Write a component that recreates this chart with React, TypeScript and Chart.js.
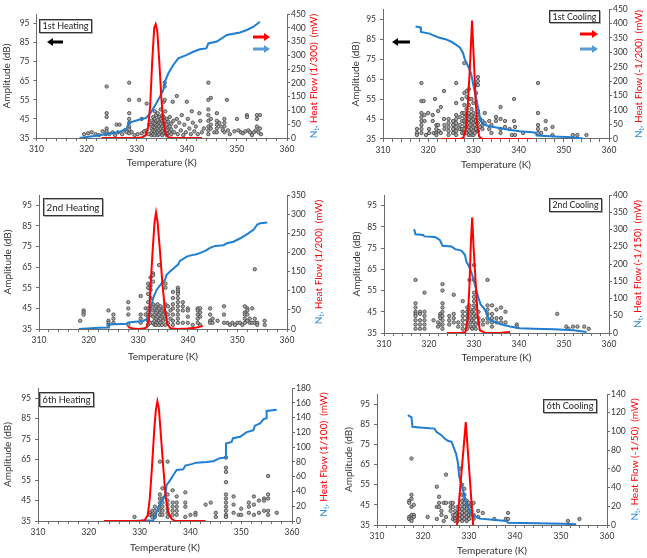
import React, { useEffect, useRef } from 'react';
import { Chart, registerables } from 'chart.js';
Chart.register(...registerables);

type P = [number, number];

const FONT = 'Lato, "Open Sans", sans-serif';
const TXT = '#333333';
const AX = '#6b6b6b';
const BLUE = 'rgb(31,126,207)';
const BLUE_T = 'rgb(46,139,214)';
const BLUE_ARROW = 'rgb(91,155,213)';
const RED = '#ff0000';

// shared axis ticks
const xTickMarks = [310, 312, 314, 316, 318, 320, 322, 324, 326, 328, 330, 332, 334, 336, 338, 340, 342, 344, 346, 348, 350, 352, 354, 356, 358, 360];
const xTickLabels = [310, 320, 330, 340, 350, 360];
const ampTicks = [35, 45, 55, 65, 75, 85, 95];

// ---------- 1st Heating ----------
const h1Ticks = [0, 50, 100, 150, 200, 250, 300, 350, 400, 450];
const h1Amp: P[] = [
  [319.5,37],[320.3,37.5],[321,38],[321.8,37],[322.5,36.5],[323.2,38.5],[323.8,37],[324,62],[324,48],[324,46],[324,40],[324,38.5],[324.5,37],[325.2,38],[325.7,36.5],[326,42],[326.6,42],[326.3,38],[327.1,37],[327.6,39],[328,38],[328.5,64],[328.5,55],[328.5,48],[328.5,45],[328.5,43],[328.5,41],[328.5,39.5],[328.5,37.5],[329,38],[329.6,36.5],[330.2,37],[330.5,55],[331,37.5],[331,45],[331.5,38.5],[332,53],[332,39],[332.5,42],[332.4,37],
  [333,36.5],[333,38],[333,40],[333,42],[333,44],[333.3,37],[333.3,39],[333.3,41],[333.3,43],[333.3,46],[333.6,36.5],[333.6,38.5],[333.6,40.5],[333.6,42.5],[333.6,45],[333.6,49],[333.9,37.5],[333.9,39.5],[333.9,41.5],[333.9,44],[333.9,47],[334.2,36.5],[334.2,38],[334.2,40],[334.2,42],[334.2,44.5],[334.2,48],[334.5,37],[334.5,39],[334.5,41],[334.5,43],[334.5,46],[334.8,38],[334.8,40],[334.8,42.5],[334.8,45],[334.8,50],[335.1,36.5],[335.1,38.5],[335.1,41],[335.1,44],[335.1,47],[335.4,37.5],[335.4,40],[335.4,43],[335.4,46],[335.4,54],[335.6,64],[335.6,62],[335.6,55],[335.7,38],[335.7,41],[335.7,44],[335.7,49],[336,36.5],[336,39],[336,42],[336,45],[336.3,37.5],[336.3,40.5],[336.3,43.5],[336.6,38],[336.6,41],[336.6,46],[336.9,37],[336.9,39.5],[336.9,42.5],
  [337.2,54],[337.3,44],[337.5,38],[337.8,41],[338,57],[338,45],[338.2,37],[338.5,43],[338.8,39],[339,47],[339.3,36.5],[339.5,42],[339.8,38],[340,54],[340.2,45],[340.5,40],[340.8,37],[341,49],[341.2,43],[341.5,38.5],[341.8,41],[342.2,37],[342.5,48],[342.7,44],[343,38],[343.4,40],[344.3,64],[344.3,55],[344.3,50],[344.3,47],[344.3,44],[344.3,41],[344.3,39],[344.3,37],[344.8,56],[344.8,45],[344.8,42],[344.8,40],[345.5,38],[346,48],[346,44],[346,42],[346,40],[346,38],[346.5,43],[346.8,41],[347.2,39],[347.5,45],[347.5,43],[347.5,41],[347.5,38],[348,55],[348.2,39],[348.6,37],[349.5,38.5],[350,45],[350.3,39],[350.8,38],[351.2,37.5],[351.7,38.5],[352,47],[352,46],[352.3,39],[352.6,38],[353,36.5],[353.4,38],[353.8,39],[354,47],[354,45],[354,41],[354.3,38],[354.6,47],[354.6,40],[354.8,37]
];
const h1Nt: P[] = [[318.6,0],[322.6,10],[324.6,16],[326.6,22],[328,34],[328.4,55],[330.6,67],[331.9,73],[332.9,95],[333.9,125],[334.6,149],[335.3,174],[335.6,204],[336.3,234],[337.3,265],[338.3,289],[339.9,301],[341.3,313],[342.6,322],[343.9,325],[344.3,343],[346,350],[348,374],[350.6,383],[352,392],[353.3,404],[354.6,422]];
const h1Hf: P[] = [[323,0],[330,0],[331,2],[331.8,10],[332.3,40],[332.7,120],[333.1,280],[333.5,400],[333.8,413],[334.1,390],[334.5,280],[334.9,150],[335.3,60],[335.8,15],[336.3,3],[337,0],[343,0]];

// ---------- 1st Cooling ----------
const c1Ticks = [0, 50, 100, 150, 200, 250, 300, 350, 400, 450];
const c1Amp: P[] = [
  [317.5,40],[317.5,38],[317.5,37],[318.5,63],[318.5,54],[318.5,48],[318.5,46],[318.5,44],[318.5,42],[318.5,40],[318.5,38],[319,54],[319.2,47],[319.2,44],[319.5,37],[320,48],[320.2,40],[320.2,38],[321,47],[321,44],[321.2,38],[321.5,55],[321.8,42],[321.8,40],[321.8,38],[321.8,37],[322.2,49],[322.2,42],[322.4,39],[322.8,51],[322.8,38],[323.5,59],[323.5,45],[323.6,42],[323.6,40],[324.5,45],[324.5,43],[324.5,41],[324.5,39],[324.5,37],[325.5,44],[325.5,42],[325.5,40],[325.5,38],[326.2,63],[326.2,53],[326.2,47],[326.2,45],[326.2,43],[326.2,41],[326.2,39],[326.2,37],[327,46],[327,42],[327,40],[327.5,55],[327.5,48],[327.5,44],[327.5,40],[327.5,38],
  [328,73],[328,58],[328,52],[328,48],[328,46],[328,44],[328,42],[328,40],[328,38],[328.5,59],[328.5,56],[328.5,50],[328.5,47],[328.5,44],[328.5,41],[328.5,38],[329,60],[329,55],[329,52],[329,48],[329,45],[329,43],[329,41],[329,39],[329,37],[329.3,46],[329.3,42],[329.3,38],[329.6,55],[329.6,50],[329.6,47],[329.6,44],[329.6,40],[329.6,37],[330,53],[330,48],[330,45],[330,43],[330,41],[330,39],[330,37],[330.3,46],[330.3,42],[330.3,38],[330.6,62],[330.6,58],[330.6,44],[330.6,40],[331,66],[331,64],[331,62],[331,49],[331,47],[331,43],[331,39],[331.5,45],[331.5,41],
  [332,44],[332,42],[332,40],[332.5,48],[332.5,43],[333.5,44],[333.5,40],[334,42],[334,38],[335,46],[335,44],[336,51],[336,45],[336,40],[336,38],[337,44],[337,41],[338,40],[338.5,37],[339,55],[339,44],[339.2,41],[339.2,37],[341,38],[344.3,63],[344.3,48],[344.3,42],[344.3,40],[344.3,38],[345,38],[346,44],[346,40],[347.5,41],[347.5,37],[352,37],[353,37],[355,37]
];
const c1Nt: P[] = [[317.2,390],[318.3,387],[318.4,371],[320.3,365],[321,360],[322.5,351],[324,345],[325.1,337],[326.2,326],[327,317],[327.7,298],[328.1,276],[328.8,253],[329.5,226],[330,186],[330.6,142],[331.2,97],[331.5,69],[332,52],[333.5,44],[335.7,38],[337.9,32],[340.2,27],[343.1,23],[343.8,21],[344,12],[346,10],[349,8],[352,6],[354.2,2]];
const c1Hf: P[] = [[323,0],[327.2,0],[327.8,5],[328.3,30],[328.8,130],[329.2,240],[329.7,410],[330.2,240],[330.5,130],[330.9,40],[331.3,8],[332,0],[343,0]];

// ---------- 2nd Heating ----------
const h2Ticks = [0, 50, 100, 150, 200, 250, 300, 350];
const h2Amp: P[] = [
  [318.3,39],[319,44],[319,43],[319,42],[324,44],[324,39],[324,38],[324,37],[325,42],[325,40],[325,38],[328,48],[328,45],[328,42],[328,37],[330.5,51],[330.5,42],[330.5,40],[330.5,38],[331.5,45],[331.5,42],
  [332,57],[332,55],[332,52],[332,48],[332,45],[332,43],[332,41],[332,39],[332,37],[332.5,60],[332.5,56],[332.5,54],[332.5,50],[332.5,46],[332.5,42],[332.5,38],[333,62],[333,61],[333,58],[333,47],[333,44],[333,41],[333,38],[333.3,45],[333.3,42],[333.3,39],[333.3,37],[333.6,46],[333.6,43],[333.6,40],[333.6,37],[333.9,47],[333.9,44],[333.9,41],[333.9,38],[334.2,66],[334.2,45],[334.2,42],[334.2,39],[334.2,37],[334.5,46],[334.5,43],[334.5,40],[334.5,38],[334.8,44],[334.8,41],[334.8,37],[335.1,45],[335.1,42],[335.1,39],[335.5,57],[335.5,55],[335.5,47],[335.5,43],[335.5,40],[335.5,37],[336,46],[336,42],[336,38],[336.5,44],[336.5,40],
  [337,53],[337,50],[337,47],[337,45],[337,42],[337,39],[337,37],[338,55],[338,54],[338,53],[338,52],[338,50],[338,48],[338,46],[338,44],[338,42],[338,40],[338,38],[339,48],[339,46],[339,44],[339,38],[340,45],[340,44],[340,41],[340,38],[341,37],[342,45],[342,44],[342,42],[342,40],[342,38],[342.5,45],[342.5,43],[342.5,41],[342.5,37],[344.5,45],[344.5,42],[344.5,39],[344.5,38],[345,40],[345,38],[346,39],[347.3,46],[347.3,42],[347.3,38],[348,38],[348.5,37],[349,38],[349.5,37],[350,38],[350.5,38],[351,37],[351.5,46],[351.5,43],[351.5,42],[351.5,40],[351.5,38],[352,45],[352,44],[352,42],[352,39],[352.5,40],[352.5,38],[353,45],[353,38],[353.5,64],[353.5,40],[353.5,38],[354,38],[354,37],[355.5,39],[355.5,37]
];
const h2Nt: P[] = [[318,0],[322.3,3.5],[324,4],[324.1,12],[327.7,14],[328,17],[331,21],[332,28],[332.4,45],[332.7,63],[333,80],[333.7,102],[334.7,119],[335.4,128],[335.7,141],[336.4,150],[337.1,158],[338.1,169],[338.4,178],[339.8,189],[340.8,193],[341.8,195],[342.5,199],[343.5,204],[344.5,212],[345.5,217],[347.2,219],[347.9,224],[349.2,228],[350.6,237],[351.9,247],[353.3,260],[354,273],[354.6,276],[356,278]];
const h2Hf: P[] = [[328,5],[329,1],[330,0],[331,1],[331.7,4],[332.2,30],[332.5,115],[332.9,202],[333.3,280],[333.6,304],[333.9,280],[334.4,202],[334.9,115],[335.4,50],[335.9,12],[336.5,2],[338,0],[340,1],[341.5,3],[343,8]];

// ---------- 2nd Cooling ----------
const c2Ticks = [0, 50, 100, 150, 200, 250, 300, 350, 400];
const c2Amp: P[] = [
  [317,60],[317,49],[317,47],[317,45],[317,44],[317,43],[317,41],[317,39],[317,37],[318,45],[318,44],[318,41],[318,39],[318,37],[319,54],[319,45],[319,43],[319,41],[319,39],[319,37],[321,41],[322,40],[322,38],[322.5,44],[322.5,43],[322.5,42],[322.5,39],[323,58],[323,55],[323,49],[323,47],[323,45],[323,43],[323,41],[323,39],[323,37],[324.5,43],[324.5,41],[324.5,39],[325.5,53],[325.5,44],[325.5,42],[325.5,40],[326.5,40],[326.5,38],[327.5,50],[327.5,45],[327.5,43],[327.5,41],[327.5,39],[327.5,37],
  [328.5,47],[328.5,45],[328.5,43],[328.5,41],[328.5,39],[328.5,37],[329,60],[329,48],[329.3,46],[329.3,44],[329.3,42],[329.3,40],[329.3,38],[329.6,45],[329.6,41],[329.6,37],[330,67],[330,60],[330,54],[330,52],[330,50],[330,48],[330,46],[330,44],[330,42],[330,40],[330,38],[330.4,47],[330.4,43],[330.4,39],[330.4,37],[331,45],[331,42],[331,40],[332,41],[332,39],
  [333,60],[333,48],[333,46],[333,44],[333,42],[333,40],[334,48],[334,44],[334,42],[334,40],[334,38],[335,46],[335,42],[335,40],[336,47],[336,42],[336,40],[337,45],[337,40],[339.5,39],[339.5,38],[348.5,44],[350.5,38],[351,37],[352,38],[353,38],[354.5,38],[355.5,37]
];
const c2Nt: P[] = [[316.7,301],[317,286],[318.7,284],[319,280],[321.3,278],[322.4,270],[323,253],[325,251],[325.8,243],[327.2,239],[328,226],[328.3,207],[328.9,193],[329.5,173],[330.2,140],[331,101],[331.5,82],[332.2,72],[332.8,58],[333.3,39],[334.3,34],[335.8,26],[338,19],[340.2,14],[343.2,12.5],[347.7,10.6],[352.1,7.7],[355,3]];
const c2Hf: P[] = [[324,0],[327,0],[328.1,3],[328.6,40],[329,140],[329.3,260],[329.6,335],[329.9,250],[330.4,140],[330.8,50],[331.3,8],[332.5,0],[336,1],[338,3]];

// ---------- 6th Heating ----------
const h6Ticks = [0, 20, 40, 60, 80, 100, 120, 140, 160, 180];
const h6Amp: P[] = [
  [329,37],[332,39],[332,38],[332.5,40],[332.5,38],[332.5,37],[333,42],[333,40],[333,38],[333,37],[334,64],[334,48],[334,46],[334,44],[334,42],[334,40],[334,38],[334.5,51],[334.5,46],[334.5,44],[334.5,42],[334.5,40],[334.5,38],[335.5,64],[335.5,48],[335.5,45],[335.5,43],[335.5,41],[335.5,39],[335.5,37],[336.5,50],[336.5,44],[336.5,42],[336.5,40],[336.5,38],[337.3,47],[337.3,44],[337.3,42],[337.3,40],[337.3,38],
  [339,49],[339,44],[339,42],[339,37],[340,38],[341,39],[341,38],[343,43],[344,44],[345,39],[345,37],[347,66],[347,61],[347,59],[347,54],[347,48],[347,46],[347,44],[347,42],[347,40],[347,38],[347,37],[348.5,47],[348.5,43],[348.5,39],[349.5,38],[350,41],[350,38],[351.5,44],[351.5,42],[351.5,39],[352.5,47],[352.5,43],[352.5,38],[353.5,45],[353.5,39],[354.5,46],[354.5,45],[354.5,40],[355.3,57],[355.3,48],[355.3,46],[355.3,40],[355.3,38],[357,39]
];
const h6Nt: P[] = [[328.7,0],[332.7,1],[333,5],[333.7,19],[334.3,26],[335.1,37],[335.3,48.5],[336,55],[336.6,62],[337.3,69],[338.6,70],[339,75],[340.2,77],[341.2,79],[343.2,80],[344.5,81],[345.8,85],[346.9,86],[347,105],[348.1,107],[348.4,112],[349.8,114],[351,120],[352.4,123],[352.7,129],[353.7,132],[354.4,138],[354.9,139],[355,149],[357,150.5]];
const h6Hf: P[] = [[323,0],[330,0],[331,1],[331.6,8],[332,30],[332.4,69],[332.9,125],[333.2,150],[333.5,162],[333.8,152],[334.2,115],[334.7,69],[335.1,35],[335.6,12],[336.3,3],[337,0],[343,0]];

// ---------- 6th Cooling ----------
const c6Ticks = [0, 20, 40, 60, 80, 100, 120, 140];
const c6Amp: P[] = [
  [317,47],[317,46],[317,39],[317,38],[317.5,68],[317.5,50],[317.5,48],[317.5,44],[317.5,40],[317.5,38],[317.5,37],[318,45],[318,40],[318,39],[321,39],[323,54],[323,44],[323,38],[323.5,49],[323.5,46],[323.5,44],[324,42],[324,40],[324.5,46],[324.5,37],[325,60],[325,46],[325,39],[326,46],[326,44],[326,42],[326.5,46],[326.5,44],[326.5,40],[326.5,38],[327,42],[327,40],[327,38],[327,37],[327.5,44],[327.5,41],[327.5,39],[327.5,37],
  [328,63],[328,43],[328,40],[328,38],[328.5,55],[328.5,50],[328.5,47],[328.5,45],[328.5,43],[328.5,41],[328.5,39],[328.5,37],[329,53],[329,50],[329,48],[329,46],[329,44],[329,42],[329,40],[329,38],[329.5,47],[329.5,45],[329.5,43],[329.5,41],[329.5,39],[329.5,37],[330,46],[330,44],[330,42],[330,40],[330,38],[330.5,45],[330.5,42],[330.5,40],[331,46],[331,40],[331,38],[332,42],[332,39],[333,41],[335.5,38],[338,38],[338.5,41],[338.5,38],[351.5,37],[354,38]
];
const c6Nt: P[] = [[316.7,117.5],[317.5,115],[317.7,105],[319.3,104.3],[322.5,103],[322.9,99.6],[324,96],[324.7,92.5],[325.4,90],[326.2,89],[326.5,85],[327.2,76],[327.6,66],[327.9,51],[328.7,37],[329.4,23],[330.5,11.4],[331.6,8.6],[332.3,6.8],[335.2,5.7],[338.1,4.3],[338.5,2.5],[344.6,1.8],[350.4,1.4],[353.3,0.7]];
const c6Hf: P[] = [[327.4,0],[329.3,110],[330.9,0]];

interface Panel {
  amp: P[]; nt: P[]; hf: P[]; rTicks: number[];
  label: string; hfTitle: string;
  l: number; r: number; t: number; b: number;
  yTitleX: number; xTitleY: number; rTitleX: number;
  box: [number, number, number, number];
  arrows?: { bx1: number; bx2: number; by: number; rx1: number; rx2: number; ry: number; uy: number };
}

const panels: Panel[] = [
  { amp: h1Amp, nt: h1Nt, hf: h1Hf, rTicks: h1Ticks, label: '1st Heating', hfTitle: 'Heat Flow (1/300)  (mW)',
    l: 36.5, r: 287, t: 14, b: 138, yTitleX: 7, xTitleY: 163, rTitleX: 314, box: [39, 19, 53, 14],
    arrows: { bx1: 63, bx2: 47, by: 42, rx1: 253, rx2: 270, ry: 37, uy: 49 } },
  { amp: c1Amp, nt: c1Nt, hf: c1Hf, rTicks: c1Ticks, label: '1st Cooling', hfTitle: 'Heat Flow (-1/200)  (mW)',
    l: 383, r: 609, t: 5, b: 139, yTitleX: 355.5, xTitleY: 164.5, rTitleX: 639, box: [549, 10, 51, 13],
    arrows: { bx1: 410, bx2: 392, by: 42, rx1: 580, rx2: 598, ry: 34, uy: 49 } },
  { amp: h2Amp, nt: h2Nt, hf: h2Hf, rTicks: h2Ticks, label: '2nd Heating', hfTitle: 'Heat Flow (1/200)  (mW)',
    l: 39, r: 287, t: 195, b: 329, yTitleX: 8, xTitleY: 356.5, rTitleX: 319, box: [43, 198, 60, 18] },
  { amp: c2Amp, nt: c2Nt, hf: c2Hf, rTicks: c2Ticks, label: '2nd Cooling', hfTitle: 'Heat Flow (-1/150)  (mW)',
    l: 384, r: 609, t: 195, b: 333, yTitleX: 357, xTitleY: 357.5, rTitleX: 638, box: [549, 198, 53, 14] },
  { amp: h6Amp, nt: h6Nt, hf: h6Hf, rTicks: h6Ticks, label: '6th Heating', hfTitle: 'Heat Flow (1/100)  (mW)',
    l: 38, r: 292, t: 388, b: 521, yTitleX: 8, xTitleY: 547.5, rTitleX: 324, box: [39, 392, 55, 15] },
  { amp: c6Amp, nt: c6Nt, hf: c6Hf, rTicks: c6Ticks, label: '6th Cooling', hfTitle: 'Heat Flow (-1/50)  (mW)',
    l: 377, r: 607, t: 394, b: 525, yTitleX: 348.5, xTitleY: 551, rTitleX: 635, box: [543, 399, 54, 14] },
];

function drawArrow(ctx: CanvasRenderingContext2D, x1: number, x2: number, y: number, color: string) {
  const dir = x2 > x1 ? 1 : -1;
  const head = 6;
  ctx.save();
  ctx.strokeStyle = color;
  ctx.fillStyle = color;
  ctx.lineWidth = 3;
  ctx.beginPath();
  ctx.moveTo(x1, y);
  ctx.lineTo(x2 - dir * head, y);
  ctx.stroke();
  ctx.beginPath();
  ctx.moveTo(x2, y);
  ctx.lineTo(x2 - dir * head, y - 4);
  ctx.lineTo(x2 - dir * head, y + 4);
  ctx.closePath();
  ctx.fill();
  ctx.restore();
}

function decoPlugin(p: Panel) {
  return {
    id: 'deco',
    afterDraw(chart: any) {
      const ctx: CanvasRenderingContext2D = chart.ctx;
      const ca = chart.chartArea;
      // right axis title (two colours)
      ctx.save();
      ctx.translate(p.rTitleX, (ca.top + ca.bottom) / 2);
      ctx.rotate(-Math.PI / 2);
      ctx.textBaseline = 'middle';
      ctx.textAlign = 'left';
      const big = `10px ${FONT}`;
      const small = `7px ${FONT}`;
      ctx.font = big;
      const wN = ctx.measureText('N').width;
      const wc = ctx.measureText(', ').width;
      const wr = ctx.measureText(p.hfTitle).width;
      ctx.font = small;
      const wt = ctx.measureText('t').width;
      let x = -(wN + wt + wc + wr) / 2;
      ctx.fillStyle = BLUE_T;
      ctx.font = big; ctx.fillText('N', x, 0); x += wN;
      ctx.font = small; ctx.fillText('t', x, 2.5); x += wt;
      ctx.font = big; ctx.fillText(', ', x, 0); x += wc;
      ctx.fillStyle = RED; ctx.fillText(p.hfTitle, x, 0);
      ctx.restore();

      // label box
      const [bx, by, bw, bh] = p.box;
      ctx.save();
      ctx.fillStyle = '#fff';
      ctx.fillRect(bx, by, bw, bh);
      ctx.strokeStyle = '#aaa';
      ctx.lineWidth = 1;
      ctx.strokeRect(bx + 1.5, by + 1.5, bw - 1, bh - 1);
      ctx.strokeStyle = '#333';
      ctx.strokeRect(bx + 0.5, by + 0.5, bw - 1, bh - 1);
      ctx.font = `10px ${FONT}`;
      const w10 = ctx.measureText(p.label).width;
      const fs = Math.min(11.5, (10 * (bw - 7)) / w10);
      ctx.font = `${fs}px ${FONT}`;
      ctx.fillStyle = '#222';
      ctx.textAlign = 'center';
      ctx.textBaseline = 'middle';
      ctx.fillText(p.label, bx + bw / 2, by + bh / 2 + 0.5);
      ctx.restore();

      if (p.arrows) {
        const a = p.arrows;
        drawArrow(ctx, a.bx1, a.bx2, a.by, '#000');
        drawArrow(ctx, a.rx1, a.rx2, a.ry, RED);
        drawArrow(ctx, a.rx1, a.rx2, a.uy, BLUE_ARROW);
      }
    },
  };
}

const toXY = (arr: P[]) => arr.map(([x, y]) => ({ x, y }));

function makeChart(canvas: HTMLCanvasElement, p: Panel) {
  const tickFont = { size: 8.5, family: FONT };
  const titleFont = { size: 10, family: FONT };
  const rightW = 30;
  return new Chart(canvas, {
    type: 'scatter',
    data: {
      datasets: [
        { data: toXY(p.hf), yAxisID: 'y2', showLine: true, borderColor: RED, borderWidth: 2, pointRadius: 0, tension: 0 } as any,
        { data: toXY(p.nt), yAxisID: 'y2', showLine: true, borderColor: BLUE, borderWidth: 2, pointRadius: 0, tension: 0 } as any,
        { data: toXY(p.amp), yAxisID: 'y', pointRadius: 1.7, pointBackgroundColor: '#a8a8a8', pointBorderColor: '#404040', pointBorderWidth: 0.8 } as any,
      ],
    },
    options: {
      animation: false,
      responsive: false,
      events: [],
      layout: {
        padding: {
          left: p.yTitleX - 6,
          right: 647 - p.r - rightW,
          top: p.t,
          bottom: 558 - (p.xTitleY + 6),
        },
      },
      plugins: { legend: { display: false }, tooltip: { enabled: false } },
      scales: {
        x: {
          type: 'linear', position: 'bottom', min: 310, max: 360,
          afterBuildTicks: (s: any) => { s.ticks = xTickMarks.map((v) => ({ value: v })); },
          afterFit: (s: any) => { s.height = p.xTitleY + 6 - p.b; },
          ticks: { autoSkip: false, maxRotation: 0, padding: 3, color: TXT, font: tickFont,
            callback: (v: any) => (xTickLabels.includes(Number(v)) ? String(v) : '') },
          grid: { display: true, drawOnChartArea: false, drawTicks: true, tickLength: 3, color: AX },
          border: { display: true, color: AX, width: 1 },
          title: { display: true, text: 'Temperature (K)', color: TXT, font: titleFont, padding: 0 },
        },
        y: {
          type: 'linear', position: 'left', min: 35, max: 100,
          afterBuildTicks: (s: any) => { s.ticks = ampTicks.map((v) => ({ value: v })); },
          afterFit: (s: any) => { s.width = p.l - (p.yTitleX - 6); },
          ticks: { padding: 4, color: TXT, font: tickFont },
          grid: { display: true, drawOnChartArea: false, drawTicks: true, tickLength: 3, color: AX },
          border: { display: true, color: AX, width: 1 },
          title: { display: true, text: 'Amplitude (dB)', color: TXT, font: titleFont, padding: 0 },
        },
        y2: {
          type: 'linear', position: 'right', min: 0, max: p.rTicks[p.rTicks.length - 1],
          afterBuildTicks: (s: any) => { s.ticks = p.rTicks.map((v) => ({ value: v })); },
          afterFit: (s: any) => { s.width = rightW; },
          ticks: { padding: 1, color: TXT, font: tickFont },
          grid: { display: true, drawOnChartArea: false, drawTicks: true, tickLength: 3, color: AX },
          border: { display: true, color: AX, width: 1 },
          title: { display: false },
        },
      },
    } as any,
    plugins: [decoPlugin(p)],
  });
}

export default function App() {
  const refs = useRef<(HTMLCanvasElement | null)[]>([]);
  useEffect(() => {
    const charts = panels.map((p, i) => makeChart(refs.current[i] as HTMLCanvasElement, p));
    return () => charts.forEach((c) => c.destroy());
  }, []);
  return (
    <div style={{ position: 'fixed', left: 0, top: 0, width: 647, height: 558, background: '#fff', overflow: 'hidden' }}>
      {panels.map((p, i) => (
        <canvas
          key={i}
          ref={(el) => { refs.current[i] = el; }}
          width={647}
          height={558}
          style={{ position: 'absolute', left: 0, top: 0, width: 647, height: 558 }}
        />
      ))}
    </div>
  );
}
